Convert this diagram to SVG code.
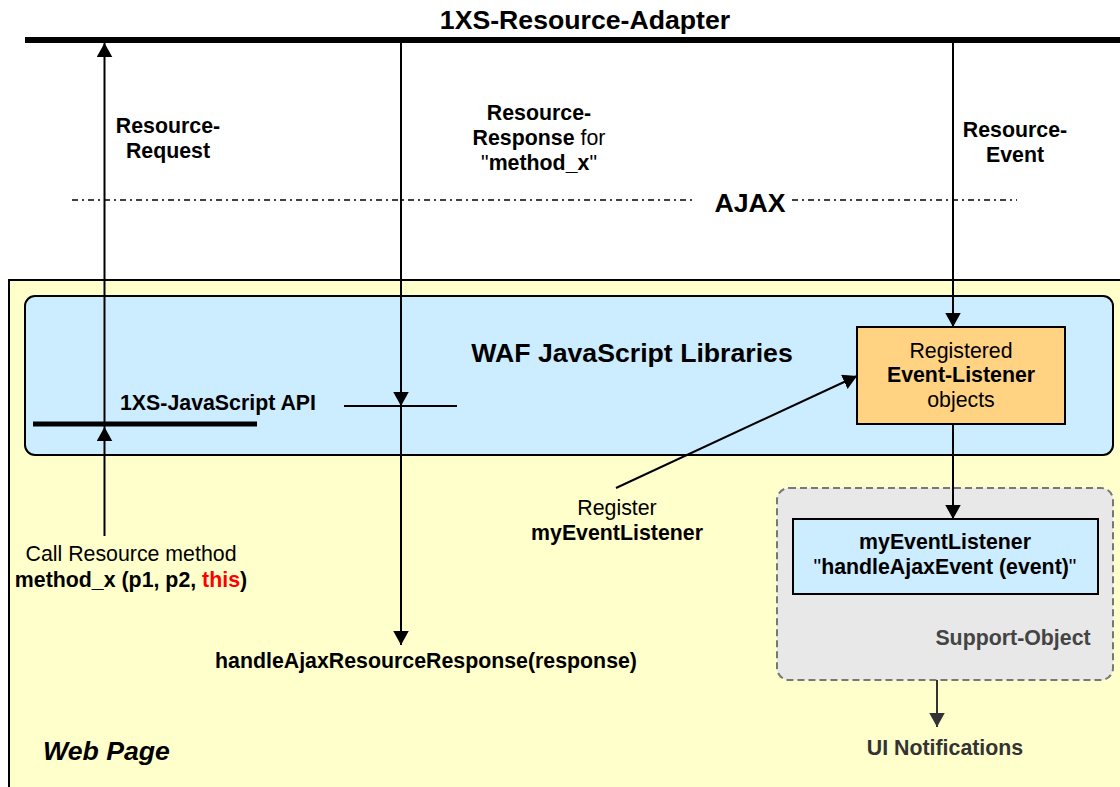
<svg xmlns="http://www.w3.org/2000/svg" width="1120" height="787" viewBox="0 0 1120 787">
  <style>
    text { font-family: "Liberation Sans", Arial, sans-serif; fill: #000; }
    .b { font-weight: bold; }
    .lbl { font-size: 21.33px; }
    .ttl { font-size: 26.67px; font-weight: bold; }
    .mid { text-anchor: middle; }
    .wire { stroke: #000; stroke-width: 2; fill: none; }
    .bar { stroke: #000; fill: none; }
    .gray { fill: #444; }
    .dashdot { stroke: #000; stroke-width: 1.6; stroke-dasharray: 6 4 2 4; }
  </style>
  <defs>
    <marker id="arrow" markerUnits="userSpaceOnUse" markerWidth="15" markerHeight="16" refX="14" refY="7.75" orient="auto">
      <path d="M0,0 L14,7.75 L0,15.5 z" fill="#000"/>
    </marker>
    <marker id="arrowGray" markerUnits="userSpaceOnUse" markerWidth="15" markerHeight="16" refX="14" refY="7.75" orient="auto">
      <path d="M0,0 L14,7.75 L0,15.5 z" fill="#333"/>
    </marker>
  </defs>

  <rect width="1120" height="787" fill="#fff"/>

  <!-- Web page container -->
  <g id="web-page">
    <rect x="9" y="280" width="1200" height="600" fill="#FFFFCC" stroke="#000" stroke-width="2"/>
    <text x="43" y="760" class="ttl" font-style="italic">Web Page</text>
  </g>

  <!-- Resource adapter bus -->
  <g id="resource-adapter">
    <line x1="25" y1="40" x2="1120" y2="40" class="bar" stroke-width="6"/>
    <text x="585" y="29" class="ttl mid">1XS-Resource-Adapter</text>
  </g>

  <!-- AJAX boundary -->
  <g id="ajax">
    <line x1="72" y1="200" x2="696" y2="200" class="dashdot"/>
    <line x1="792" y1="200" x2="1017" y2="200" class="dashdot"/>
    <text x="750" y="212" class="ttl mid">AJAX</text>
  </g>

  <!-- WAF libraries -->
  <g id="waf-libraries">
    <rect x="25" y="296" width="1088" height="159" rx="10" fill="#CCECFF" stroke="#000" stroke-width="2"/>
    <text x="632" y="362" class="ttl mid">WAF JavaScript Libraries</text>
  </g>

  <!-- JavaScript API -->
  <g id="js-api">
    <line x1="33" y1="424" x2="257" y2="424" class="bar" stroke-width="5"/>
    <text x="120" y="410" class="lbl b">1XS-JavaScript API</text>
    <line x1="344" y1="406" x2="457" y2="406" class="bar" stroke-width="2"/>
  </g>

  <!-- Listener registry -->
  <g id="listener-registry">
    <rect x="857" y="327" width="208" height="97" fill="#FFD382" stroke="#000" stroke-width="2"/>
    <text x="961" y="358" class="lbl mid">Registered</text>
    <text x="961" y="382" class="lbl mid b">Event-Listener</text>
    <text x="961" y="407" class="lbl mid">objects</text>
  </g>

  <!-- Support object -->
  <g id="support-object">
    <rect x="777" y="488" width="336" height="192" rx="12" fill="#E8E8E8" stroke="#777" stroke-width="2" stroke-dasharray="7 4"/>
    <text x="1013" y="645" class="lbl mid b gray">Support-Object</text>
  </g>

  <g id="my-event-listener">
    <rect x="793" y="519" width="305" height="75" fill="#CCECFF" stroke="#000" stroke-width="2"/>
    <text x="945" y="549" class="lbl mid b">myEventListener</text>
    <text x="945" y="574" class="lbl mid">"<tspan class="b">handleAjaxEvent (event)</tspan>"</text>
  </g>

  <!-- Labels -->
  <g id="labels">
    <text x="168" y="133" class="lbl mid b">Resource-</text>
    <text x="168" y="158" class="lbl mid b">Request</text>

    <text x="539" y="120" class="lbl mid b">Resource-</text>
    <text x="539" y="145" class="lbl mid"><tspan class="b">Response</tspan> for</text>
    <text x="539" y="170" class="lbl mid">"<tspan class="b">method_x</tspan>"</text>

    <text x="1015" y="137" class="lbl mid b">Resource-</text>
    <text x="1015" y="162" class="lbl mid b">Event</text>

    <text x="131" y="561" class="lbl mid">Call Resource method</text>
    <text x="131" y="587" class="lbl mid b">method_x (p1, p2, <tspan fill="#FF0000">this</tspan>)</text>

    <text x="426" y="668" class="lbl mid b">handleAjaxResourceResponse(response)</text>

    <text x="617" y="515" class="lbl mid">Register</text>
    <text x="617" y="540" class="lbl mid b">myEventListener</text>

    <text x="945" y="755" class="lbl mid b" style="fill:#333">UI Notifications</text>
  </g>

  <!-- Connectors -->
  <g id="connectors">
    <!-- resource request -->
    <line x1="104.5" y1="536" x2="104.5" y2="427" class="wire" marker-end="url(#arrow)"/>
    <line x1="104.5" y1="427" x2="104.5" y2="43" class="wire" marker-end="url(#arrow)"/>
    <!-- resource response -->
    <line x1="401" y1="43" x2="401" y2="406" class="wire" marker-end="url(#arrow)"/>
    <line x1="401" y1="406" x2="401" y2="645" class="wire" marker-end="url(#arrow)"/>
    <!-- resource event -->
    <line x1="953" y1="43" x2="953" y2="327" class="wire" marker-end="url(#arrow)"/>
    <line x1="953" y1="424" x2="953" y2="519" class="wire" marker-end="url(#arrow)"/>
    <!-- register listener -->
    <line x1="616" y1="488" x2="857" y2="376" class="wire" marker-end="url(#arrow)"/>
    <!-- UI notifications -->
    <line x1="937" y1="680" x2="937" y2="727" stroke="#333" stroke-width="2" marker-end="url(#arrowGray)"/>
  </g>
</svg>
